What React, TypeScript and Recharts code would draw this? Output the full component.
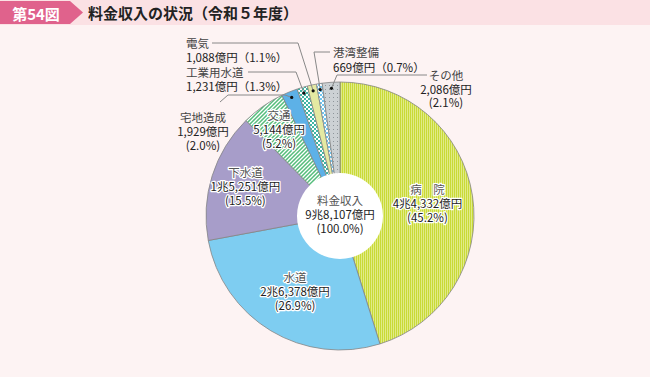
import React from 'react';
import { PieChart, Pie, Cell } from 'recharts';

// ---- data ----
const categories = ['病　院', '水道', '下水道', '交通', '宅地造成', '工業用水道', '電気', '港湾整備', 'その他'];
const revenues = [44332, 26378, 15251, 5144, 1929, 1231, 1088, 669, 2086]; // 億円
const shares = [45.2, 26.9, 15.5, 5.2, 2.0, 1.3, 1.1, 0.7, 2.1]; // %
const totalName = '料金収入';
const totalRevenue = 98107;
const totalShare = 100.0;
const titleBadge = '第54図';
const titleText = '料金収入の状況（令和５年度）';

// ---- style / layout ----
const FONT = '"Noto Sans CJK JP", "Noto Sans", sans-serif';
const fills = ['url(#pHosp)', '#7ecdf1', '#a79dc9', 'url(#pTraffic)', '#5db1e7', 'url(#pIndWater)', '#e4e9a2', 'url(#pPort)', 'url(#pOther)'];

type InsideLayout = { kind: 'inside'; r: number; da?: number };
type OutsideLayout = {
  kind: 'outside';
  tx: number; // text x offset from cx
  ty: number[]; // text line y offsets from cy
  anchor: 'start' | 'middle' | 'end';
  split: boolean; // name / amount / share on separate lines
  line: [number, number][]; // leader points (offsets from cx, cy) before the slice end
};
const layouts: (InsideLayout | OutsideLayout)[] = [
  { kind: 'inside', r: 0.66 },
  { kind: 'inside', r: 0.65 },
  { kind: 'inside', r: 0.74 },
  { kind: 'inside', r: 0.79 },
  { kind: 'outside', tx: -137, ty: [-99, -85, -71], anchor: 'middle', split: true, line: [[-120, -114], [-112, -121], [-55, -121]] },
  { kind: 'outside', tx: -154, ty: [-144, -130], anchor: 'start', split: false, line: [[-92, -144], [-44, -144]] },
  { kind: 'outside', tx: -154, ty: [-173, -159], anchor: 'start', split: false, line: [[-128, -173], [-42, -173]] },
  { kind: 'outside', tx: -7, ty: [-164, -149], anchor: 'start', split: false, line: [[-10, -164], [-26, -164]] },
  { kind: 'outside', tx: 106, ty: [-141, -127, -114], anchor: 'middle', split: true, line: [[87, -141], [-3, -141]] },
];

const fmtAmount = (v: number) => {
  const cho = Math.floor(v / 10000);
  const oku = v % 10000;
  const okuStr = oku.toLocaleString('en-US');
  return cho > 0 ? `${cho}兆${okuStr}億円` : `${okuStr}億円`;
};

const data = categories.map((name, i) => ({ name, value: revenues[i], share: shares[i] }));
const centerData = [{ name: totalName, value: totalRevenue }];

const RAD = Math.PI / 180;

const renderLabel = (props: any) => {
  const { cx, cy, midAngle, outerRadius, index } = props;
  const lay = layouts[index];
  const name = categories[index];
  const amount = fmtAmount(revenues[index]);
  const share = shares[index].toFixed(1);
  if (lay.kind === 'inside') {
    const ang = (midAngle + (lay.da || 0)) * RAD;
    const r = outerRadius * lay.r;
    const x = cx + r * Math.cos(ang);
    const y = cy - r * Math.sin(ang);
    const common = {
      x,
      textAnchor: 'middle' as const,
      dominantBaseline: 'central' as const,
      fontFamily: FONT,
      fontSize: 11.5,
      stroke: '#fff',
      strokeWidth: 2.5,
      strokeLinejoin: 'round' as const,
      paintOrder: 'stroke',
    };
    return (
      <g>
        <text {...common} y={y - 14} fill="#555">{name}</text>
        <text {...common} y={y} fill="#222">{amount}</text>
        <text {...common} y={y + 14} fill="#222">({share}%)</text>
      </g>
    );
  }
  const ang = midAngle * RAD;
  const rd = outerRadius - 6;
  const dx = cx + rd * Math.cos(ang);
  const dy = cy - rd * Math.sin(ang);
  const pts = lay.line.map(([ox, oy]) => `${cx + ox},${cy + oy}`).concat(`${dx},${dy}`).join(' ');
  const tcommon = {
    x: cx + lay.tx,
    textAnchor: lay.anchor,
    dominantBaseline: 'central' as const,
    fontFamily: FONT,
    fontSize: 11.5,
  };
  const lines = lay.split ? [name, amount, `(${share}%)`] : [name, `${amount}（${share}%）`];
  return (
    <g>
      <polyline points={pts} fill="none" stroke="#888" strokeWidth={1} />
      <circle cx={dx} cy={dy} r={1.6} fill="#111" />
      {lines.map((t, k) => (
        <text key={k} {...tcommon} y={cy + lay.ty[k]} fill={k === 0 ? '#444' : '#222'}>{t}</text>
      ))}
    </g>
  );
};

const renderCenter = (props: any) => {
  const { cx, cy } = props;
  const common = {
    x: cx,
    textAnchor: 'middle' as const,
    dominantBaseline: 'central' as const,
    fontFamily: FONT,
    fontSize: 11.5,
  };
  return (
    <g>
      <text {...common} y={cy - 16} fill="#555">{totalName}</text>
      <text {...common} y={cy - 2} fill="#222">{fmtAmount(totalRevenue)}</text>
      <text {...common} y={cy + 12} fill="#222">({totalShare.toFixed(1)}%)</text>
    </g>
  );
};

export default function App() {
  return (
    <div style={{ position: 'absolute', left: 0, top: 0, width: 650, height: 377, background: '#fdf3f3', overflow: 'hidden' }}>
      <svg width={0} height={0} style={{ position: 'absolute' }}>
        <defs>
          <pattern id="pHosp" width="2" height="10" patternUnits="userSpaceOnUse">
            <rect width="2" height="10" fill="#c9da37" />
            <rect x="1" width="1" height="10" fill="#e1eb88" />
          </pattern>
          <pattern id="pTraffic" width="4" height="4" patternUnits="userSpaceOnUse">
            <rect width="4" height="4" fill="#55bd7c" />
            <path d="M-1,1 l2,-2 M0,4 l4,-4 M3,5 l2,-2" stroke="#ffffff" strokeWidth="1.3" />
          </pattern>
          <pattern id="pIndWater" width="4" height="4" patternUnits="userSpaceOnUse">
            <rect width="4" height="4" fill="#3fb5a4" />
            <rect x="0" y="0" width="2" height="2" fill="#ffffff" />
            <rect x="2" y="2" width="2" height="2" fill="#ffffff" />
          </pattern>
          <pattern id="pPort" width="4" height="4" patternUnits="userSpaceOnUse">
            <rect width="4" height="4" fill="#6fc4ee" />
            <rect x="0" y="0" width="2" height="2" fill="#ffffff" />
            <rect x="2" y="2" width="2" height="2" fill="#ffffff" />
          </pattern>
          <pattern id="pOther" width="4" height="4" patternUnits="userSpaceOnUse">
            <rect width="4" height="4" fill="#ccd1d4" />
            <rect x="1" y="1" width="1" height="1" fill="#8e959a" />
          </pattern>
        </defs>
      </svg>
      {/* title band */}
      <div style={{ position: 'absolute', left: 0, top: 0, width: 650, height: 25, background: '#fbe1e4' }} />
      <svg width={90} height={25} style={{ position: 'absolute', left: 0, top: 0 }}>
        <polygon points="0,1 70,1 83,12.5 70,24 0,24" fill="#e0628c" />
        <text x={36} y={13} textAnchor="middle" dominantBaseline="central" fontFamily={FONT} fontWeight={700} fontSize={15} fill="#fff">{titleBadge}</text>
      </svg>
      <div style={{ position: 'absolute', left: 88, top: 0, height: 25, lineHeight: '25px', fontFamily: FONT, fontWeight: 700, fontSize: 15, color: '#222', whiteSpace: 'nowrap' }}>
        {titleText}
      </div>
      <div style={{ position: 'absolute', left: 0, top: 0 }}>
        <PieChart width={650} height={377} margin={{ top: 0, right: 0, bottom: 0, left: 0 }}>
          <Pie
            data={data}
            dataKey="value"
            nameKey="name"
            cx={340}
            cy={216}
            outerRadius={134}
            innerRadius={0}
            startAngle={90}
            endAngle={-270}
            stroke="#858585"
            strokeWidth={0.8}
            label={renderLabel}
            labelLine={false}
            isAnimationActive={false}
          >
            {data.map((d, i) => (
              <Cell key={d.name} fill={fills[i]} />
            ))}
          </Pie>
          <Pie
            data={centerData}
            dataKey="value"
            cx={340}
            cy={216}
            outerRadius={43}
            innerRadius={0}
            startAngle={90}
            endAngle={-270}
            fill="#ffffff"
            stroke="none"
            label={renderCenter}
            labelLine={false}
            isAnimationActive={false}
          />
        </PieChart>
      </div>
    </div>
  );
}
